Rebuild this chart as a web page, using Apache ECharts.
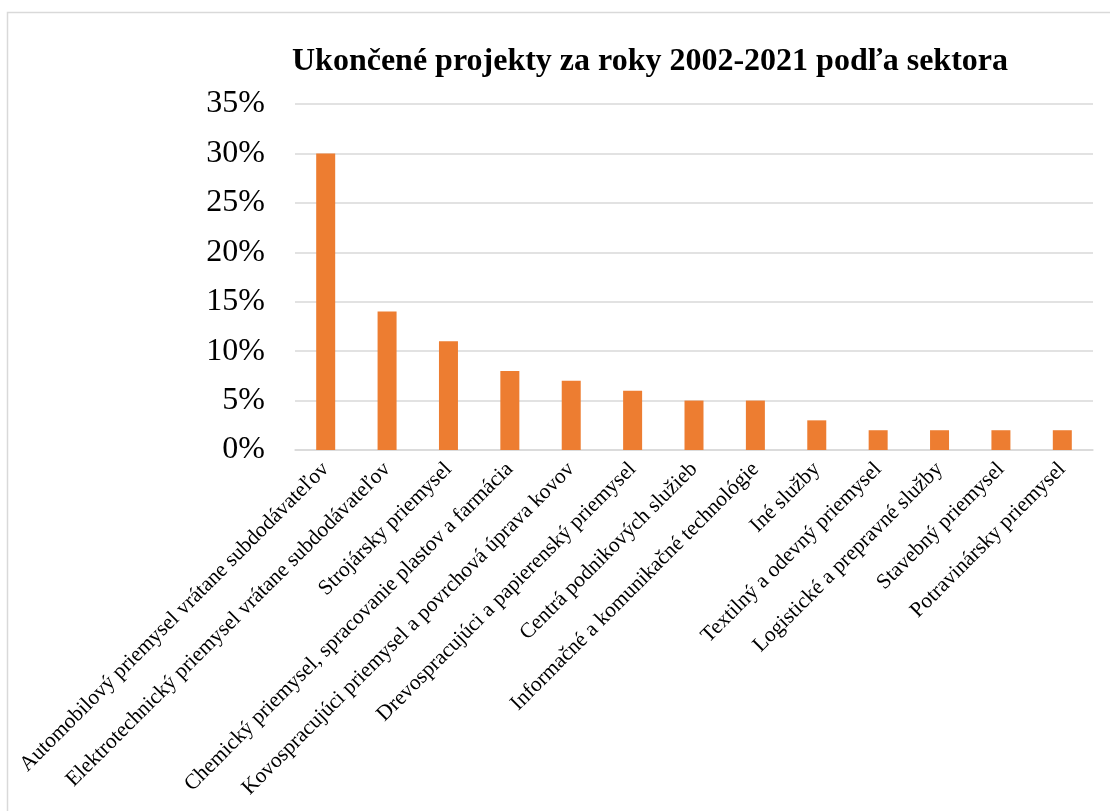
<!DOCTYPE html>
<html>
<head>
<meta charset="utf-8">
<script src="https://cdn.jsdelivr.net/npm/echarts@6/dist/echarts.min.js"></script>
<style>
	html, body { margin: 0; padding: 0; background: #fff; }
	#chart { width: 1110px; height: 811px; }
</style>
</head>
<body>
<div id="chart"></div>
<script>
// sektory
const categories = [
	'Automobilový priemysel vrátane subdodávateľov',
	'Elektrotechnický priemysel vrátane subdodávateľov',
	'Strojársky priemysel',
	'Chemický priemysel, spracovanie plastov a farmácia',
	'Kovospracujúci priemysel a povrchová úprava kovov',
	'Drevospracujúci a papierenský priemysel',
	'Centrá podnikových služieb',
	'Informačné a komunikačné technológie',
	'Iné služby',
	'Textilný a odevný priemysel',
	'Logistické a prepravné služby',
	'Stavebný priemysel',
	'Potravinársky priemysel',
]
// podiel v %
const shares = [30, 14, 11, 8, 7, 6, 5, 5, 3, 2, 2, 2, 2]
const yTicks = [0, 5, 10, 15, 20, 25, 30, 35]

const serif = '"Liberation Serif", "DejaVu Serif", serif'
const chart = echarts.init(document.getElementById('chart'))

const option = {
	animation: false,
	backgroundColor: '#fff',
	title: {
		text: 'Ukončené projekty za roky 2002-2021 podľa sektora',
		left: 645,
		textAlign: 'center',
		top: 41,
		textStyle: {
			fontFamily: serif,
			fontSize: 32,
			fontWeight: 'bold',
			color: '#000',
		},
	},
	graphic: [
		{
			type: 'rect',
			shape: { x: 7.5, y: 12.5, width: 1130, height: 830 },
			style: { fill: 'none', stroke: '#d9d9d9', lineWidth: 1.5 },
			silent: true,
		},
	],
	grid: {
		left: 295,
		right: 17,
		top: 104,
		bottom: 361,
	},
	xAxis: {
		type: 'category',
		data: categories,
		axisTick: { show: false },
		axisLine: { lineStyle: { color: '#d9d9d9', width: 1.5 } },
		axisLabel: {
			interval: 0,
			rotate: 45,
			margin: 16,
			fontFamily: serif,
			fontSize: 21.5,
			color: '#000',
		},
	},
	yAxis: {
		type: 'value',
		min: yTicks[0],
		max: yTicks[yTicks.length - 1],
		interval: 5,
		axisLine: { show: false },
		axisTick: { show: false },
		splitLine: { lineStyle: { color: '#d9d9d9', width: 1.5 } },
		axisLabel: {
			formatter: '{value}%',
			margin: 30,
			fontFamily: serif,
			fontSize: 32,
			color: '#000',
		},
	},
	series: [
		{
			type: 'bar',
			data: shares,
			barWidth: 19,
			itemStyle: { color: '#ED7D31' },
		},
	],
}
chart.setOption(option)
</script>
</body>
</html>
